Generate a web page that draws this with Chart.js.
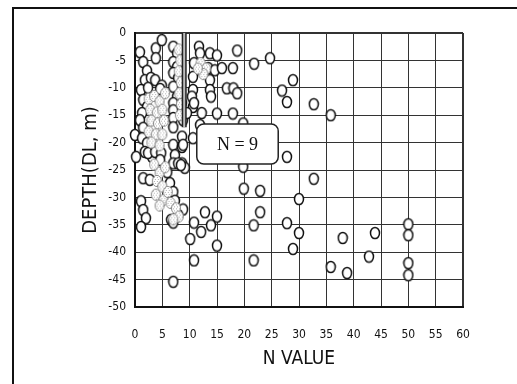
<!DOCTYPE html>
<html>
<head>
<meta charset="utf-8">
<script src="https://cdn.jsdelivr.net/npm/chart.js@4/dist/chart.umd.min.js"></script>
<style>
  html, body { margin: 0; padding: 0; background: #fff; }
  #wrap { position: relative; width: 517px; height: 384px; overflow: hidden; }
  #frame { position: absolute; left: 12px; top: 7px; width: 520px; height: 400px;
           border-left: 2px solid #111; border-top: 2px solid #111; pointer-events: none; }
  canvas { position: absolute; left: 0; top: 0; }
</style>
</head>
<body>
<div id="wrap">
  <canvas id="c" width="517" height="384"></canvas>
  <div id="frame"></div>
</div>
<script>
// ---- data ----
const xTicks = [0, 5, 10, 15, 20, 25, 30, 35, 40, 45, 50, 55, 60];
const yTicks = [0, -5, -10, -15, -20, -25, -30, -35, -40, -45, -50];

// open circles: N value, depth
const openN = [
  0.9, 3.8, 3.8, 4.9, 1.5, 2.2, 1.8, 2.9, 3.7, 4.9, 1.1, 2.4, 4.6, 1.5, 2.2, 1.3, 0.9, 1.5, 0.0, 1.3,
  2.2, 1.8, 3.1, 0.2, 2.4, 3.7, 4.8, 1.5, 2.7, 1.1, 1.5, 2.0, 1.1,
  7.0, 7.7, 7.0, 7.7, 7.0, 7.9, 7.0, 7.7, 7.0, 8.6, 7.0, 8.8, 7.0, 7.0, 8.6, 7.0, 8.6, 7.3, 7.0, 8.6,
  9.1, 5.9, 6.4, 7.0, 7.3, 8.8, 7.9, 6.6, 7.0, 4.6, 7.9, 8.4,
  11.7, 11.9, 13.7, 15.0, 18.7, 21.8, 24.7, 10.8, 12.2, 13.4, 14.6, 15.9, 17.9, 10.6, 13.7, 13.7,
  13.9, 10.6, 10.4, 10.6, 9.5, 10.8, 16.8, 18.0, 18.7, 12.2, 15.0, 17.9, 19.8, 11.9, 28.9, 26.9,
  27.8, 32.7, 35.8,
  8.8, 10.6, 27.8, 19.8, 32.7, 19.9, 22.9, 30.0, 22.9, 21.7, 27.8, 30.0, 28.9, 21.7, 38.0, 35.8,
  38.8, 42.8, 43.9, 50.0, 50.0, 50.0, 50.0, 15.0, 12.8, 13.9, 12.1, 10.8, 10.8, 15.0, 10.1, 7.0
];
const openDepth = [
  -3.5, -2.8, -4.6, -1.3, -5.3, -6.9, -8.6, -8.2, -8.6, -9.6, -10.4, -10.0, -10.2, -12.2, -13.5, -14.6, -15.9, -17.3, -18.6, -19.2,
  -20.1, -21.7, -22.6, -22.6, -21.9, -21.7, -21.9, -26.5, -26.8, -30.7, -32.3, -33.8, -35.4,
  -2.5, -3.7, -5.3, -6.2, -7.3, -8.2, -9.8, -11.6, -12.8, -12.8, -14.1, -15.9, -15.5, -17.2, -18.9, -20.4, -20.8, -22.3, -23.8, -23.8,
  -24.6, -25.4, -27.4, -29.0, -30.6, -32.2, -33.2, -34.1, -34.6, -23.2, -23.8, -24.1,
  -2.5, -3.7, -3.7, -4.1, -3.2, -5.6, -4.6, -5.5, -6.8, -6.4, -6.8, -6.4, -6.4, -8.0, -8.6, -10.4,
  -11.6, -10.4, -11.6, -13.5, -14.6, -12.8, -10.1, -10.1, -11.0, -14.6, -14.7, -14.7, -16.5, -16.8, -8.6, -10.5,
  -12.6, -13.0, -15.0,
  -20.4, -19.2, -22.6, -24.4, -26.6, -28.4, -28.8, -30.3, -32.7, -35.1, -34.7, -36.5, -39.4, -41.5, -37.4, -42.7,
  -43.8, -40.8, -36.5, -34.9, -36.9, -42.0, -44.2, -33.5, -32.7, -35.1, -36.3, -34.6, -41.5, -38.8, -37.6, -45.4
];

// shaded (dotted) circles
const shadedN = [
  2.5, 3.5, 4.5, 5.5, 2.8, 4.0, 5.0, 3.0, 4.2, 5.3, 2.5, 3.8, 5.0, 3.0, 4.5,
  3.5, 4.5, 5.5, 4.0, 5.0, 3.8, 5.2, 4.5, 6.0, 6.5,
  8.0, 8.3, 8.0, 8.4, 8.1, 8.4, 8.2,
  12.0, 13.0, 12.5, 11.5,
  7.5, 8.0, 7.0
];
const shadedDepth = [
  -12.0, -11.5, -12.5, -11.0, -14.0, -14.5, -14.0, -16.0, -16.5, -16.0, -18.0, -18.5, -18.5, -20.0, -20.5,
  -24.0, -25.5, -24.5, -27.0, -28.0, -29.5, -30.5, -31.5, -29.0, -31.0,
  -3.0, -5.0, -7.0, -9.0, -11.0, -13.0, -15.0,
  -5.5, -6.5, -7.5, -6.5,
  -32.0, -33.5, -34.0
];

// N = 9 marker bar
const barN = 9;
const barDepths = [0, -17.2];
const labelText = 'N = 9';
const labelBox = { n1: 11.3, n2: 26.2, d1: -16.6, d2: -23.9 };

// ---- rendering ----
function ellipseImg(shaded) {
  const c = document.createElement('canvas');
  c.width = 12; c.height = 14;
  const g = c.getContext('2d');
  g.beginPath();
  g.ellipse(6, 7, 4.5, 5.6, 0, 0, Math.PI * 2);
  g.fillStyle = '#fff';
  g.fill();
  if (shaded) {
    g.save();
    g.clip();
    g.fillStyle = '#b0b0b0';
    for (let yy = 1; yy < 14; yy += 2) {
      for (let xx = (yy % 4 === 1 ? 1 : 3); xx < 12; xx += 3) g.fillRect(xx, yy, 1, 1);
    }
    g.restore();
    g.beginPath();
    g.ellipse(6, 7, 4.5, 5.6, 0, 0, Math.PI * 2);
    g.lineWidth = 1;
    g.strokeStyle = '#8a8a8a';
  } else {
    g.lineWidth = 1.5;
    g.strokeStyle = '#111';
  }
  g.stroke();
  return c;
}
const openImg = ellipseImg(false);
const shadedImg = ellipseImg(true);

const zip = (xs, ys) => xs.map((v, i) => ({ x: v, y: ys[i] }));

const boxPlugin = {
  id: 'nbox',
  afterDatasetsDraw(chart) {
    const { ctx, scales: { x, y } } = chart;
    const l = x.getPixelForValue(labelBox.n1), r = x.getPixelForValue(labelBox.n2);
    const t = y.getPixelForValue(labelBox.d1), b = y.getPixelForValue(labelBox.d2);
    ctx.save();
    ctx.beginPath();
    ctx.roundRect(l, t, r - l, b - t, 7);
    ctx.fillStyle = '#fff';
    ctx.fill();
    ctx.lineWidth = 1.5;
    ctx.strokeStyle = '#222';
    ctx.stroke();
    ctx.fillStyle = '#111';
    ctx.font = '18px "Liberation Serif", "DejaVu Serif", serif';
    ctx.textAlign = 'center';
    ctx.textBaseline = 'middle';
    ctx.fillText(labelText, (l + r) / 2, (t + b) / 2 + 1);
    ctx.restore();
  }
};

const tickFont = { family: '"Liberation Sans Narrow", "DejaVu Sans Condensed", "Liberation Sans", sans-serif', size: 12 };
const titleFont = { family: '"Liberation Sans Narrow", "DejaVu Sans Condensed", "Liberation Sans", sans-serif', size: 19 };
const yTitleFont = { family: '"Liberation Sans Narrow", "DejaVu Sans Condensed", "Liberation Sans", sans-serif', size: 20 };

new Chart(document.getElementById('c'), {
  type: 'scatter',
  data: {
    datasets: [
      { label: 'bar-core', type: 'line', data: barDepths.map(d => ({ x: barN, y: d })),
        borderColor: '#bdbdbd', borderWidth: 2, pointRadius: 0, order: 0, clip: false },
      { label: 'bar', type: 'line', data: barDepths.map(d => ({ x: barN, y: d })),
        borderColor: '#222', borderWidth: 5, pointRadius: 0, order: 1, clip: false },
      { label: 'shaded', data: zip(shadedN, shadedDepth), pointStyle: shadedImg, order: 2, clip: false },
      { label: 'open', data: zip(openN, openDepth), pointStyle: openImg, order: 3, clip: false }
    ]
  },
  options: {
    responsive: false,
    animation: false,
    devicePixelRatio: 1,
    events: [],
    layout: { padding: { top: 33, right: 54, left: 0, bottom: 0 } },
    plugins: { legend: { display: false }, tooltip: { enabled: false } },
    scales: {
      x: {
        type: 'linear', min: 0, max: 60,
        afterBuildTicks(s) { s.ticks = xTicks.map(v => ({ value: v })); },
        afterFit(s) { s.height = 77; },
        ticks: { color: '#111', font: tickFont, padding: 21, maxRotation: 0 },
        grid: { color: '#333', lineWidth: c => (c.tick && c.tick.value === 60 ? 2 : 1), tickLength: 0 },
        border: { display: true, color: '#111', width: 2 },
        title: { display: true, text: 'N VALUE', color: '#111', font: titleFont, padding: { top: 0, bottom: 14 } }
      },
      y: {
        type: 'linear', min: -50, max: 0,
        afterBuildTicks(s) { s.ticks = yTicks.map(v => ({ value: v })); },
        afterFit(s) { s.width = 135; },
        ticks: { color: '#111', font: tickFont, padding: 9 },
        grid: { color: '#333', lineWidth: c => (c.tick && c.tick.value === 0 ? 2 : 1), tickLength: 0 },
        border: { display: true, color: '#111', width: 2 },
        title: { display: true, text: 'DEPTH(DL, m)', color: '#111', font: yTitleFont, padding: { top: 79, bottom: 0 } }
      }
    }
  },
  plugins: [boxPlugin]
});
</script>
</body>
</html>
